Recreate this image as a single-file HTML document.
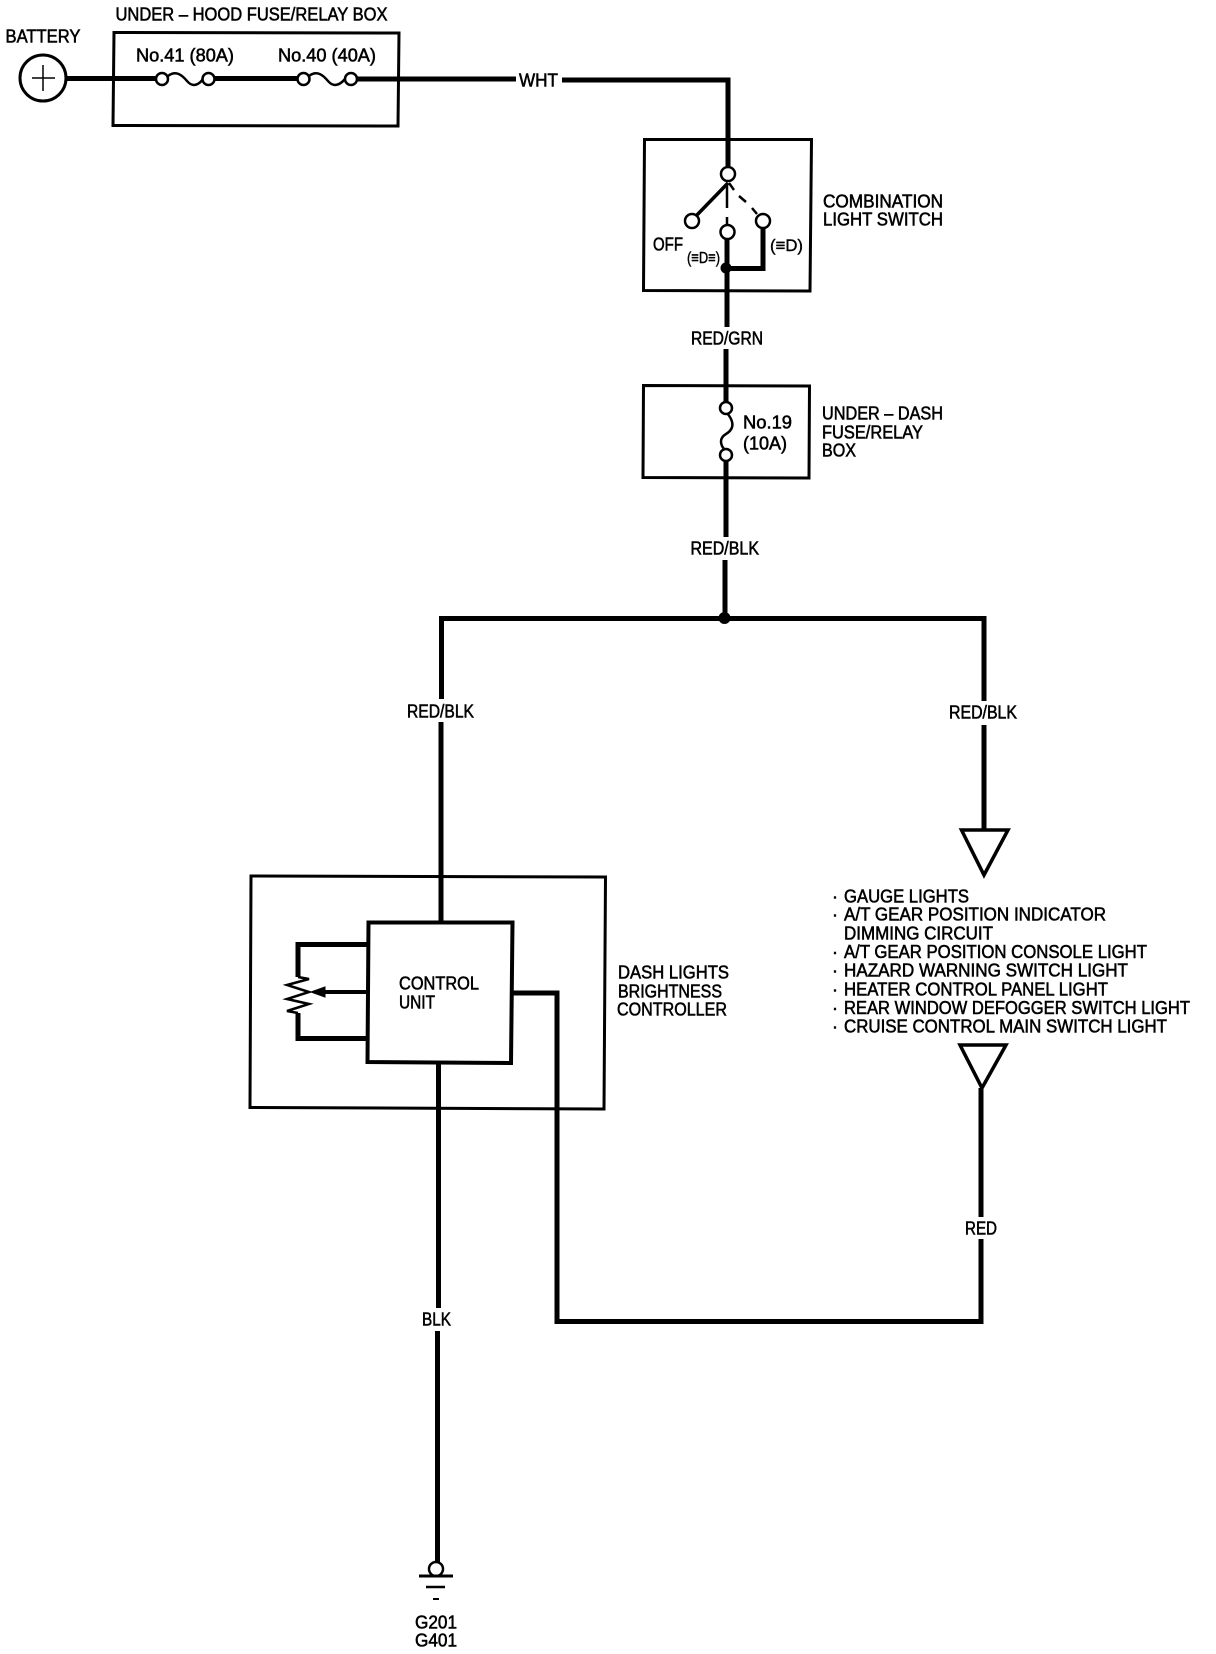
<!DOCTYPE html>
<html>
<head>
<meta charset="utf-8">
<title>Dash Lights Brightness Controller Circuit</title>
<style>
html,body{margin:0;padding:0;background:#fff;width:1216px;height:1654px;overflow:hidden}
svg{display:block}
text{font-family:"Liberation Sans",sans-serif;font-size:18px;fill:#000;stroke:#000;stroke-width:.55px}
.w{fill:none;stroke:#000;stroke-width:5}
.b{fill:none;stroke:#000;stroke-width:3}
.t{fill:#fff;stroke:#000;stroke-width:2.5}
</style>
</head>
<body>
<svg width="1216" height="1654" viewBox="0 0 1216 1654" xmlns="http://www.w3.org/2000/svg">
<rect width="1216" height="1654" fill="#fff"/>

<!-- Boxes -->
<path class="b" d="M114 32.5L399 33L398 126L113 125.5Z"/>
<path class="b" d="M644.5 139.5L811.5 139.5L810 291L643.5 290.5Z"/>
<path class="b" d="M643.5 385.5L809.5 386L809 478L643 477.5Z"/>
<path class="b" d="M251 876L605.5 877L604 1109L250 1107.5Z"/>
<path class="w" style="stroke-width:4" d="M368.5 922.5H512.5L511 1063L367.5 1062Z"/>

<!-- Top wire -->
<path class="w" d="M66 78.5H156M214 78.5H297M357 79H516M562 80H728V167"/>
<circle cx="43" cy="78" r="23" fill="#fff" stroke="#000" stroke-width="3"/>
<path d="M43 65V91M32 78H55" stroke="#000" stroke-width="1.5" fill="none"/>

<!-- Fuses 41, 40 -->
<path d="M168 76C176 70 182 75 187 81C192 87 198 86 203 79" fill="none" stroke="#000" stroke-width="2.5"/>
<path d="M309 76C317 70 323 75 328 81C333 87 339 86 345 79" fill="none" stroke="#000" stroke-width="2.5"/>
<circle class="t" cx="162" cy="79" r="6"/>
<circle class="t" cx="208.5" cy="79" r="6"/>
<circle class="t" cx="303.5" cy="79" r="6"/>
<circle class="t" cx="351" cy="79" r="6"/>

<!-- Switch -->
<path d="M728 183L696 216" stroke="#000" stroke-width="3.5" fill="none"/>
<path d="M727 183V208M727 217V226" stroke="#000" stroke-width="2.5" fill="none"/>
<path d="M729 183L734 190M739 196L746 202M752 208L757 214" stroke="#000" stroke-width="2.5" fill="none"/>
<path class="w" d="M727 238V327M727 268.5H763V228"/>
<circle cx="726" cy="268" r="5.5" fill="#000"/>
<circle class="t" cx="728" cy="174" r="7"/>
<circle class="t" cx="692" cy="221" r="7"/>
<circle class="t" cx="727.5" cy="232" r="7"/>
<circle class="t" cx="763" cy="221" r="7"/>

<!-- Under-dash fuse -->
<path class="w" d="M726 349V402M726 461V537M725 560V618"/>
<path d="M727 413C737 425 731 431 726 434C719 438 720 445 725 450" fill="none" stroke="#000" stroke-width="2.5"/>
<circle class="t" cx="726" cy="408" r="6"/>
<circle class="t" cx="726" cy="455" r="6"/>

<!-- Branch -->
<path class="w" d="M441.5 699V618.5H984V701"/>
<path class="w" d="M441 722V922M984 725V831"/>
<circle cx="724.5" cy="618" r="6" fill="#000"/>

<!-- Triangles -->
<path d="M961.5 830H1008L984 875Z" fill="#fff" stroke="#000" stroke-width="3.5"/>
<path d="M960 1045H1006L982 1088Z" fill="#fff" stroke="#000" stroke-width="3.5"/>

<!-- Potentiometer -->
<path class="w" d="M368 944.5H298V977M298 1013V1038.5H368"/>
<path d="M298 977L309 979L287 985L309 992L287 999L309 1004L287 1011L298 1013" fill="none" stroke="#000" stroke-width="2.5"/>
<path class="w" d="M368 992H322" style="stroke-width:4"/>
<path d="M311 992L325 987V997Z" fill="#000" stroke="#000"/>

<!-- Output wires -->
<path class="w" d="M511 993H557V1321.5H981V1239M981 1217V1088"/>
<path class="w" d="M438.5 1062V1308M437.5 1331V1562"/>

<!-- Ground -->
<circle class="t" cx="436" cy="1569" r="7"/>
<path d="M419 1576H453" stroke="#000" stroke-width="3" fill="none"/>
<path d="M426 1587H445" stroke="#000" stroke-width="2.5" fill="none"/>
<path d="M433 1599H439" stroke="#000" stroke-width="2" fill="none"/>

<!-- Labels -->
<g>
<text x="5.5" y="42.5" textLength="75" lengthAdjust="spacingAndGlyphs">BATTERY</text>
<text x="115.5" y="20.5" textLength="272" lengthAdjust="spacingAndGlyphs">UNDER – HOOD FUSE/RELAY BOX</text>
<text x="136" y="61.5" textLength="98" lengthAdjust="spacingAndGlyphs">No.41 (80A)</text>
<text x="278" y="61.5" textLength="98" lengthAdjust="spacingAndGlyphs">No.40 (40A)</text>
<text x="519" y="86.5" textLength="39" lengthAdjust="spacingAndGlyphs">WHT</text>
<text x="823" y="207.5" textLength="120" lengthAdjust="spacingAndGlyphs">COMBINATION</text>
<text x="823" y="225.5" textLength="120" lengthAdjust="spacingAndGlyphs">LIGHT SWITCH</text>
<text x="653" y="250.5" textLength="30" lengthAdjust="spacingAndGlyphs">OFF</text>
<text x="687" y="263" textLength="33" lengthAdjust="spacingAndGlyphs" style="font-size:16px;stroke-width:.4px">(≡D≡)</text>
<text x="770" y="251" textLength="33" lengthAdjust="spacingAndGlyphs" style="font-size:17px;stroke-width:.4px">(≡D)</text>
<text x="691" y="344.5" textLength="72" lengthAdjust="spacingAndGlyphs">RED/GRN</text>
<text x="743" y="428.5" textLength="49" lengthAdjust="spacingAndGlyphs">No.19</text>
<text x="743" y="449.5" textLength="44" lengthAdjust="spacingAndGlyphs">(10A)</text>
<text x="822" y="419.5" textLength="121" lengthAdjust="spacingAndGlyphs">UNDER – DASH</text>
<text x="822" y="438.5" textLength="101" lengthAdjust="spacingAndGlyphs">FUSE/RELAY</text>
<text x="822" y="456.5" textLength="34" lengthAdjust="spacingAndGlyphs">BOX</text>
<text x="690.5" y="554.5" textLength="68.5" lengthAdjust="spacingAndGlyphs">RED/BLK</text>
<text x="407" y="717.5" textLength="67" lengthAdjust="spacingAndGlyphs">RED/BLK</text>
<text x="949" y="718.5" textLength="68" lengthAdjust="spacingAndGlyphs">RED/BLK</text>
<text x="399" y="989.5" textLength="80" lengthAdjust="spacingAndGlyphs">CONTROL</text>
<text x="399" y="1008.5" textLength="36" lengthAdjust="spacingAndGlyphs">UNIT</text>
<text x="618" y="978.5" textLength="111" lengthAdjust="spacingAndGlyphs">DASH LIGHTS</text>
<text x="618" y="997.5" textLength="104" lengthAdjust="spacingAndGlyphs">BRIGHTNESS</text>
<text x="617" y="1015.5" textLength="110" lengthAdjust="spacingAndGlyphs">CONTROLLER</text>

<text x="832" y="902.5">·</text>
<text x="844" y="902.5" textLength="125" lengthAdjust="spacingAndGlyphs">GAUGE LIGHTS</text>
<text x="832" y="920.5">·</text>
<text x="844" y="920.5" textLength="262" lengthAdjust="spacingAndGlyphs">A/T GEAR POSITION INDICATOR</text>
<text x="844" y="939.5" textLength="149" lengthAdjust="spacingAndGlyphs">DIMMING CIRCUIT</text>
<text x="832" y="958">·</text>
<text x="844" y="958" textLength="303" lengthAdjust="spacingAndGlyphs">A/T GEAR POSITION CONSOLE LIGHT</text>
<text x="832" y="976.5">·</text>
<text x="844" y="976.5" textLength="284" lengthAdjust="spacingAndGlyphs">HAZARD WARNING SWITCH LIGHT</text>
<text x="832" y="995.5">·</text>
<text x="844" y="995.5" textLength="264" lengthAdjust="spacingAndGlyphs">HEATER CONTROL PANEL LIGHT</text>
<text x="832" y="1014">·</text>
<text x="844" y="1014" textLength="346" lengthAdjust="spacingAndGlyphs">REAR WINDOW DEFOGGER SWITCH LIGHT</text>
<text x="832" y="1032.5">·</text>
<text x="844" y="1032.5" textLength="323" lengthAdjust="spacingAndGlyphs">CRUISE CONTROL MAIN SWITCH LIGHT</text>

<text x="965" y="1234.5" textLength="32" lengthAdjust="spacingAndGlyphs">RED</text>
<text x="422" y="1325.5" textLength="29" lengthAdjust="spacingAndGlyphs">BLK</text>
<text x="415" y="1628.5" textLength="42" lengthAdjust="spacingAndGlyphs">G201</text>
<text x="415" y="1646.5" textLength="42" lengthAdjust="spacingAndGlyphs">G401</text>
</g>
</svg>
</body>
</html>
